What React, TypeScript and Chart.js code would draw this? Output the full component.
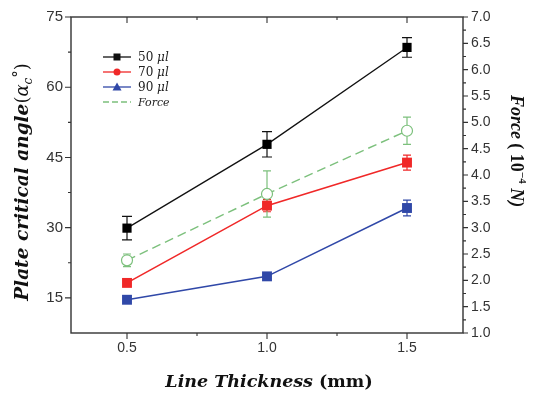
import React, { useEffect, useRef } from 'react';
import { Chart, registerables } from 'chart.js';

Chart.register(...registerables);

// ---------- data ----------
const thickness = [0.5, 1.0, 1.5];
const angle50 = [29.9, 47.8, 68.5];
const err50 = [2.5, 2.7, 2.1];
const angle70 = [18.2, 34.7, 43.9];
const err70 = [0.7, 1.3, 1.6];
const angle90 = [14.6, 19.6, 34.2];
const err90 = [0.6, 0.7, 1.7];
const force = [2.38, 3.64, 4.84];
const errForce = [0.12, 0.44, 0.26];

const seriesLabels = ['50 \u03bcl', '70 \u03bcl', '90 \u03bcl', 'Force'];

const xTicks = [0.5, 1.0, 1.5];
const xMinorTicks = [0.75, 1.25];
const leftTicks = [15, 30, 45, 60, 75];
const leftMinorTicks = [22.5, 37.5, 52.5, 67.5];
const rightTicks = [1.0, 1.5, 2.0, 2.5, 3.0, 3.5, 4.0, 4.5, 5.0, 5.5, 6.0, 6.5, 7.0];
const rightMinorTicks = [1.25, 1.75, 2.25, 2.75, 3.25, 3.75, 4.25, 4.75, 5.25, 5.75, 6.25, 6.75];

// ---------- styles ----------
const BLACK = '#111111';
const RED = '#f02828';
const BLUE = '#3048a8';
const GREEN = '#7cc07c';
const AXIS = '#333333';
const TICK_FONT = '"Liberation Sans", Arial, sans-serif';
const SERIF = '"DejaVu Serif", serif';
const TIMES = '"Liberation Serif", serif';

type Seg = { t: string; font: string; dy?: number };

function drawSegs(ctx: CanvasRenderingContext2D, segs: Seg[], cx: number, cy: number, rot: number, color: string) {
  ctx.save();
  ctx.translate(cx, cy);
  ctx.rotate(rot);
  ctx.fillStyle = color;
  ctx.textAlign = 'left';
  ctx.textBaseline = 'alphabetic';
  let total = 0;
  for (const s of segs) {
    ctx.font = s.font;
    total += ctx.measureText(s.t).width;
  }
  let x = -total / 2;
  for (const s of segs) {
    ctx.font = s.font;
    ctx.fillText(s.t, x, s.dy || 0);
    x += ctx.measureText(s.t).width;
  }
  ctx.restore();
}

const errorSpecs = [
  { ds: 0, err: err50, axis: 'y', color: BLACK, cap: 5 },
  { ds: 1, err: err70, axis: 'y', color: RED, cap: 4 },
  { ds: 2, err: err90, axis: 'y', color: BLUE, cap: 4 },
  { ds: 3, err: errForce, axis: 'y1', color: GREEN, cap: 4 },
];

const overlayPlugin = {
  id: 'overlay',
  beforeDatasetsDraw(chart: any) {
    const ctx: CanvasRenderingContext2D = chart.ctx;
    const xs = chart.scales.x;
    ctx.save();
    for (const spec of errorSpecs) {
      const ys = chart.scales[spec.axis];
      const data = chart.data.datasets[spec.ds].data as { x: number; y: number }[];
      ctx.strokeStyle = spec.color;
      ctx.lineWidth = 1.2;
      data.forEach((p, i) => {
        const px = xs.getPixelForValue(p.x);
        const top = ys.getPixelForValue(p.y + spec.err[i]);
        const bot = ys.getPixelForValue(p.y - spec.err[i]);
        ctx.beginPath();
        ctx.moveTo(px, top);
        ctx.lineTo(px, bot);
        ctx.moveTo(px - spec.cap, top);
        ctx.lineTo(px + spec.cap, top);
        ctx.moveTo(px - spec.cap, bot);
        ctx.lineTo(px + spec.cap, bot);
        ctx.stroke();
      });
    }
    ctx.restore();
  },
  afterDraw(chart: any) {
    const ctx: CanvasRenderingContext2D = chart.ctx;
    const a = chart.chartArea;
    const xs = chart.scales.x;
    const yl = chart.scales.y;
    const yr = chart.scales.y1;
    ctx.save();
    // frame
    ctx.strokeStyle = AXIS;
    ctx.lineWidth = 1.4;
    ctx.strokeRect(a.left, a.top, a.right - a.left, a.bottom - a.top);
    // ticks
    ctx.lineWidth = 1.1;
    ctx.beginPath();
    const MAJ = 6;
    const MIN = 3;
    xTicks.forEach((v) => {
      const p = xs.getPixelForValue(v);
      ctx.moveTo(p, a.bottom); ctx.lineTo(p, a.bottom + MAJ);
      ctx.moveTo(p, a.top); ctx.lineTo(p, a.top + MAJ);
    });
    xMinorTicks.forEach((v) => {
      const p = xs.getPixelForValue(v);
      ctx.moveTo(p, a.bottom); ctx.lineTo(p, a.bottom + MIN);
      ctx.moveTo(p, a.top); ctx.lineTo(p, a.top + MIN);
    });
    leftTicks.forEach((v) => {
      const p = yl.getPixelForValue(v);
      ctx.moveTo(a.left, p); ctx.lineTo(a.left - MAJ, p);
    });
    leftMinorTicks.forEach((v) => {
      const p = yl.getPixelForValue(v);
      ctx.moveTo(a.left, p); ctx.lineTo(a.left - MIN, p);
    });
    rightTicks.forEach((v) => {
      const p = yr.getPixelForValue(v);
      ctx.moveTo(a.right, p); ctx.lineTo(a.right + MAJ - 1, p);
    });
    rightMinorTicks.forEach((v) => {
      const p = yr.getPixelForValue(v);
      ctx.moveTo(a.right, p); ctx.lineTo(a.right + MIN, p);
    });
    ctx.stroke();

    // axis titles
    drawSegs(ctx, [
      { t: 'Line Thickness ', font: `bold italic 17.5px ${SERIF}` },
      { t: '(mm)', font: `bold 17.5px ${SERIF}` },
    ], 269, 387, 0, '#111');

    drawSegs(ctx, [
      { t: 'Plate critical angle', font: `bold italic 18.5px ${SERIF}` },
      { t: '(', font: `18px ${SERIF}` },
      { t: '\u03b1', font: `italic 18px ${SERIF}` },
      { t: 'c', font: `italic 12px ${SERIF}`, dy: 4 },
      { t: '\u00b0', font: `15px ${SERIF}`, dy: -5 },
      { t: ')', font: `18px ${SERIF}` },
    ], 28, 182, -Math.PI / 2, '#111');

    drawSegs(ctx, [
      { t: 'Force', font: `bold italic 18px ${TIMES}` },
      { t: ' ( 10', font: `bold 18px ${TIMES}` },
      { t: '\u22124', font: `bold 11px ${TIMES}`, dy: -8 },
      { t: ' N)', font: `bold italic 18px ${TIMES}` },
    ], 511, 151, Math.PI / 2, '#111');

    // legend
    const rows = [57, 72, 87, 102];
    const x0 = 103;
    const x1 = 131;
    const mid = (x0 + x1) / 2;
    const legendStyle = [
      { color: BLACK, marker: 'square', dash: [] as number[] },
      { color: RED, marker: 'circle', dash: [] as number[] },
      { color: BLUE, marker: 'triangle', dash: [] as number[] },
      { color: GREEN, marker: 'none', dash: [6, 3] },
    ];
    legendStyle.forEach((ls, i) => {
      const y = rows[i];
      ctx.strokeStyle = ls.color;
      ctx.fillStyle = ls.color;
      ctx.lineWidth = 1.3;
      ctx.setLineDash(ls.dash);
      ctx.beginPath();
      ctx.moveTo(x0, y);
      ctx.lineTo(x1, y);
      ctx.stroke();
      ctx.setLineDash([]);
      if (ls.marker === 'square') {
        ctx.fillRect(mid - 3.5, y - 3.5, 7, 7);
      } else if (ls.marker === 'circle') {
        ctx.beginPath();
        ctx.arc(mid, y, 3.5, 0, Math.PI * 2);
        ctx.fill();
      } else if (ls.marker === 'triangle') {
        ctx.beginPath();
        ctx.moveTo(mid, y - 4.5);
        ctx.lineTo(mid + 4.5, y + 3.5);
        ctx.lineTo(mid - 4.5, y + 3.5);
        ctx.closePath();
        ctx.fill();
      }
      const label = seriesLabels[i];
      ctx.fillStyle = '#222';
      ctx.textBaseline = 'middle';
      ctx.textAlign = 'left';
      if (i < 3) {
        const parts = label.split(' ');
        ctx.font = `12px ${SERIF}`;
        ctx.fillText(parts[0] + ' ', 138, y + 1);
        const w = ctx.measureText(parts[0] + ' ').width;
        ctx.font = `italic 12px ${SERIF}`;
        ctx.fillText(parts[1], 138 + w, y + 1);
      } else {
        ctx.font = `italic 11px ${SERIF}`;
        ctx.fillText(label, 138, y + 1);
      }
    });
    ctx.restore();
  },
};

function toPoints(vals: number[]) {
  return thickness.map((x, i) => ({ x, y: vals[i] }));
}

export default function App() {
  const ref = useRef<HTMLCanvasElement>(null);
  useEffect(() => {
    if (!ref.current) return;
    const chart = new Chart(ref.current, {
      type: 'line',
      data: {
        datasets: [
          {
            label: seriesLabels[0], data: toPoints(angle50), yAxisID: 'y',
            borderColor: BLACK, backgroundColor: '#000', borderWidth: 1.3,
            pointStyle: 'rect', pointRadius: 6.5, pointBorderWidth: 0, pointBackgroundColor: '#000',
          },
          {
            label: seriesLabels[1], data: toPoints(angle70), yAxisID: 'y',
            borderColor: RED, backgroundColor: RED, borderWidth: 1.6,
            pointStyle: 'rect', pointRadius: 7, pointBorderWidth: 0, pointBackgroundColor: RED,
          },
          {
            label: seriesLabels[2], data: toPoints(angle90), yAxisID: 'y',
            borderColor: BLUE, backgroundColor: BLUE, borderWidth: 1.6,
            pointStyle: 'rect', pointRadius: 7, pointBorderWidth: 0, pointBackgroundColor: BLUE,
          },
          {
            label: seriesLabels[3], data: toPoints(force), yAxisID: 'y1',
            borderColor: GREEN, backgroundColor: '#fff', borderWidth: 1.4, borderDash: [9, 5],
            pointStyle: 'circle', pointRadius: 5.5, pointBorderWidth: 1.2,
            pointBackgroundColor: '#ffffff', pointBorderColor: GREEN,
          },
        ],
      },
      options: {
        responsive: false,
        animation: false,
        layout: { padding: { top: 15, left: 0, right: 0, bottom: 0 } },
        plugins: { legend: { display: false }, tooltip: { enabled: false } },
        scales: {
          x: {
            type: 'linear', min: 0.3, max: 1.7,
            grid: { display: false, drawTicks: false },
            border: { display: false },
            afterBuildTicks: (s: any) => { s.ticks = xTicks.map((v) => ({ value: v })); },
            afterFit: (s: any) => { s.height = 63; },
            ticks: {
              callback: (v: any) => Number(v).toFixed(1),
              font: { family: TICK_FONT, size: 14 }, color: AXIS, padding: 7,
              maxRotation: 0, autoSkip: false,
            },
          },
          y: {
            type: 'linear', position: 'left', min: 7.5, max: 75,
            grid: { display: false, drawTicks: false },
            border: { display: false },
            afterBuildTicks: (s: any) => { s.ticks = leftTicks.map((v) => ({ value: v })); },
            afterFit: (s: any) => { s.width = 71; },
            ticks: {
              callback: (v: any) => String(v),
              font: { family: TICK_FONT, size: 15 }, color: AXIS, padding: 8,
            },
          },
          y1: {
            type: 'linear', position: 'right', min: 1, max: 7,
            grid: { display: false, drawTicks: false },
            border: { display: false },
            afterBuildTicks: (s: any) => { s.ticks = rightTicks.map((v) => ({ value: v })); },
            afterFit: (s: any) => { s.width = 73; },
            ticks: {
              callback: (v: any) => Number(v).toFixed(1),
              font: { family: TICK_FONT, size: 14 }, color: AXIS, padding: 8,
              autoSkip: false,
            },
          },
        },
      },
      plugins: [overlayPlugin],
    } as any);
    return () => chart.destroy();
  }, []);
  return (
    <div style={{ position: 'absolute', left: 0, top: 0, width: 536, height: 396, background: '#fff' }}>
      <canvas ref={ref} width={536} height={396} style={{ display: 'block' }} />
    </div>
  );
}
